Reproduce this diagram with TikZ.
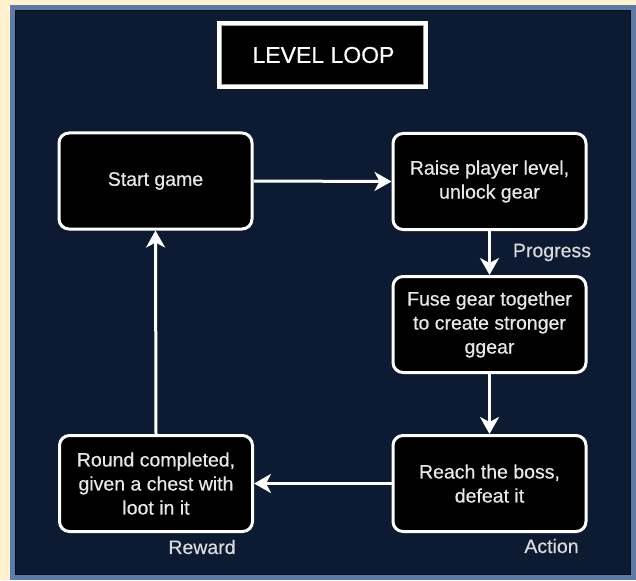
\documentclass[tikz,border=0pt]{standalone}
\usepackage{fontspec}
\setmainfont{Liberation Sans}
\newfontfamily\boxfont[FakeBold=0.5]{Liberation Sans}
\usetikzlibrary{arrows.meta}
\definecolor{cream}{HTML}{FFF2CC}
\definecolor{navy}{HTML}{0C1B32}
\definecolor{frameblue}{HTML}{5B7BA8}
\definecolor{txtgray}{HTML}{E8E8E8}
\definecolor{lblgray}{HTML}{DADADA}
\tikzset{
  stepbox/.style={draw=white, line width=3pt, fill=black, rounded corners=10pt,
    minimum width=193pt, minimum height=96pt, align=center, text=txtgray,
    font=\boxfont\fontsize{19.5}{24}\selectfont, inner sep=0pt},
  flow/.style={draw=white, line width=3pt, -{Stealth[length=17pt,width=19pt,inset=5pt]}},
  lbl/.style={text=lblgray, font=\boxfont\fontsize{19.5}{24}\selectfont, inner sep=0pt}
}
\begin{document}
\begin{tikzpicture}[x=1pt,y=-1pt]
\useasboundingbox (0,0) rectangle (636,580);
\fill[cream] (0,0) rectangle (636,580);
\draw[frameblue, line width=5pt, fill=navy] (12.5,7.5) rectangle (633.5,577.5);
\draw[black!60!navy, line width=1pt] (15.5,10.5) rectangle (630.5,574.5);
% title
\draw[white, line width=4pt, fill=black] (219,23) rectangle (426,87);
\draw[gray!70, line width=0.8pt] (221.8,25.8) rectangle (423.2,84.2);
\node[text=white, font=\boxfont\fontsize{23}{27}\selectfont, inner sep=0pt] (title) at (323.5,55) {LEVEL LOOP};
% boxes
\node[stepbox] (start) at (155.5,181) {\raisebox{-2pt}{Start game}};
\node[stepbox] (raise) at (489.5,181.5) {Raise player level,\\unlock gear};
\node[stepbox] (fuse) at (489.5,324.5) {Fuse gear together\\to create stronger\\ggear};
\node[stepbox] (reach) at (489.5,483.5) {Reach the boss,\\defeat it};
\node[stepbox] (round) at (156,483.5) {Round completed,\\given a chest with\\loot in it};
% connectors
\draw[flow] (start.east) -- (raise.west);
\draw[flow] (raise.south) -- (fuse.north);
\draw[flow] (fuse.south) -- (reach.north);
\draw[flow] (reach.west) -- (round.east);
\draw[flow] (round.north) -- (start.south);
% labels
\node[lbl] (lprog) at (552,252.5) {Progress};
\node[lbl] (lact) at (551.5,546) {Action};
\node[lbl] (lrew) at (202,547) {Reward};
\end{tikzpicture}
\end{document}
